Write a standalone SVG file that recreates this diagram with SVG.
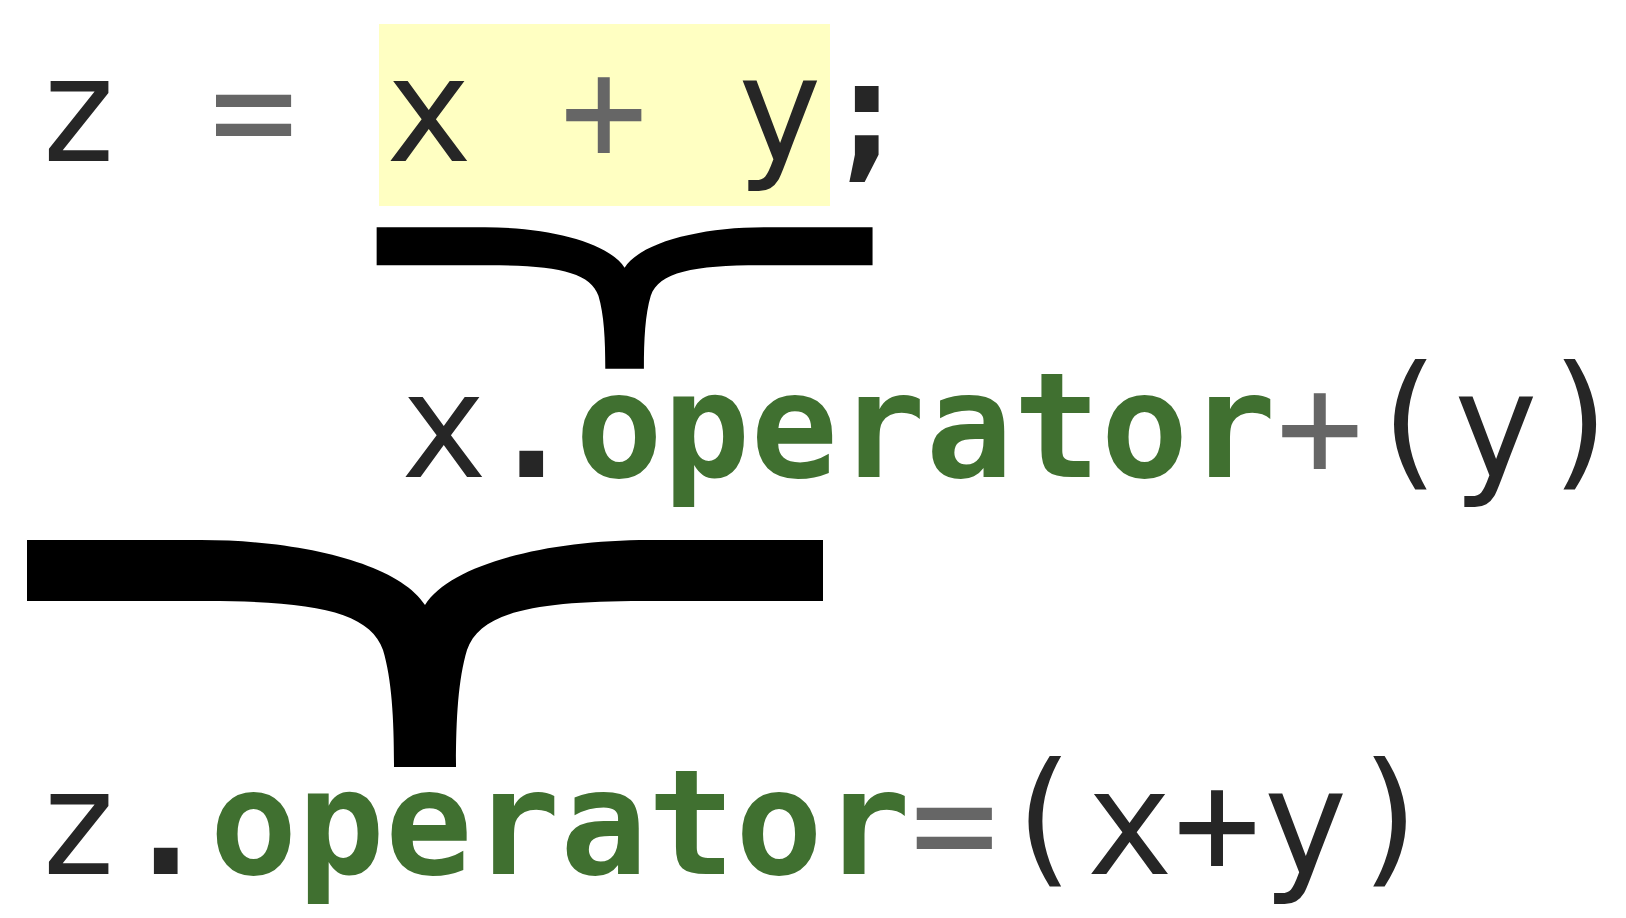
<svg xmlns="http://www.w3.org/2000/svg" xmlns:xlink="http://www.w3.org/1999/xlink" width="1626" height="918" viewBox="0 0 1626 918">
  <style>
    .code { font-family: "DejaVu Sans Mono", "Liberation Mono", monospace; font-size: 145.5px; fill: #262626; }
    .op { fill: #666666; }
    .kw { fill: #407030; font-weight: bold; }
    .punct { font-weight: bold; }
    .brace { fill: #000000; }
    .hl { fill: #ffffc2; }
  </style>
  <defs>
    <!-- downward-pointing horizontal brace, origin at the top of the cusp -->
    <path id="brace" d="M -398 0 H -224 C -120 0 -25 25 0 65 C 25 25 120 0 224 0 H 398 V 61 H 218 C 110 61 55 72 42 110 C 33 140 31 180 31 227 H -31 C -31 180 -33 140 -42 110 C -55 72 -110 61 -218 61 H -398 Z"/>
  </defs>

  <g id="statement">
    <rect class="hl" x="379" y="24" width="451" height="182"/>
    <text class="code" x="34.5" y="161">z <tspan class="op">=</tspan> x <tspan class="op">+</tspan> y<tspan class="punct">;</tspan></text>
  </g>

  <g id="connectors">
    <use href="#brace" xlink:href="#brace" class="brace" transform="translate(624.6 227.3) scale(0.623)"/>
    <use href="#brace" xlink:href="#brace" class="brace" transform="translate(425 540)"/>
  </g>

  <g id="member-call">
    <text class="code" x="400" y="477">x<tspan class="punct">.</tspan><tspan class="kw">operator</tspan><tspan class="op">+</tspan><tspan dy="-7">(</tspan><tspan dy="7">y</tspan><tspan dy="-7">)</tspan></text>
  </g>

  <g id="assignment-call">
    <text class="code" x="34.5" y="874">z<tspan class="punct">.</tspan><tspan class="kw">operator</tspan><tspan class="op">=</tspan><tspan dy="-7">(</tspan><tspan dy="7">x+y</tspan><tspan dy="-7">)</tspan></text>
  </g>
</svg>
